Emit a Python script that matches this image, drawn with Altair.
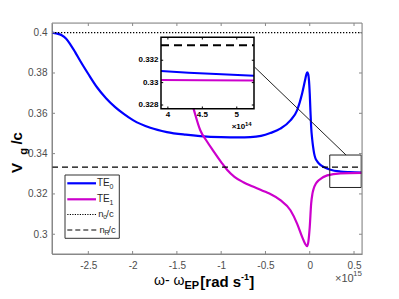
import altair as alt
import pandas as pd

# ---------------- data (x in units of 1e15 rad/s) ----------------
blue_x = [-2.91, -2.86, -2.80, -2.75, -2.707, -2.65, -2.594, -2.50, -2.40, -2.30, -2.20, -2.10,
          -1.991, -1.80, -1.613, -1.40, -1.236, -1.00, -0.80, -0.671, -0.55, -0.445, -0.332,
          -0.218, -0.143, -0.086, -0.055, -0.040, -0.029, -0.018, -0.008, 0.000, 0.008, 0.016,
          0.028, 0.038, 0.050, 0.064, 0.084, 0.120, 0.158, 0.234, 0.347, 0.45, 0.59]
blue_y = [0.4000, 0.3996, 0.3987, 0.3970, 0.3945, 0.3905, 0.3862, 0.3795, 0.3728, 0.3675, 0.3632,
          0.3597, 0.3565, 0.3528, 0.3507, 0.3494, 0.3487, 0.3482, 0.3481, 0.3482, 0.3488, 0.3502,
          0.3524, 0.3565, 0.3615, 0.3698, 0.3760, 0.3790, 0.3803, 0.3795, 0.3760, 0.3698, 0.3610,
          0.3532, 0.3470, 0.3433, 0.3400, 0.3377, 0.3362, 0.3344, 0.3334, 0.3320, 0.3311, 0.3308,
          0.3306]

mag_x = [-1.34, -1.312, -1.236, -1.16, -1.093, -1.00, -0.934, -0.85, -0.75, -0.65, -0.55, -0.482,
         -0.445, -0.332, -0.218, -0.143, -0.086, -0.055, -0.029, -0.015, 0.000, 0.016, 0.030,
         0.045, 0.070, 0.102, 0.197, 0.347, 0.59]
mag_y = [0.3665, 0.3623, 0.3516, 0.3460, 0.3416, 0.3358, 0.3320, 0.3285, 0.3258, 0.3238, 0.3220,
         0.3207, 0.3200, 0.3169, 0.3119, 0.3053, 0.2987, 0.2955, 0.2941, 0.2965, 0.3036, 0.3152,
         0.3200, 0.3227, 0.3252, 0.3268, 0.3292, 0.3302, 0.3304]

x_ticks = [-2.5, -2, -1.5, -1, -0.5, 0, 0.5]
y_ticks = [0.3, 0.32, 0.34, 0.36, 0.38, 0.4]
n_o = 0.4
n_R = 1 / 3

zoom_box_x = [0.226, 0.581]
zoom_box_y = [0.3232, 0.3393]
connector_x = [-0.622, 0.41]
connector_y = [0.3829, 0.3393]

# inset (x in units of 1e14 rad/s)
inset_blue_x = [3.9, 4.3, 4.7, 5.25]
inset_blue_y = [0.33104, 0.33088, 0.33076, 0.33062]
inset_mag_x = [3.9, 4.5, 5.25]
inset_mag_y = [0.33024, 0.33021, 0.33018]
inset_x_ticks = [4, 4.5, 5]
inset_y_ticks = [0.328, 0.33, 0.332]

X_DOM = [-2.91, 0.59]
Y_DOM = [0.2902, 0.4048]
INSET_X_DOM = [3.9, 5.25]
INSET_Y_DOM = [0.32767, 0.33405]

W, H = 310, 231
FONT = "Liberation Sans"
GRAY = "#888888"
LBL = "#4d4d4d"
BLUE = "#0000ff"
MAG = "#cc00cc"

xs = alt.Scale(domain=X_DOM, range=[0, W], nice=False, zero=False)
ys = alt.Scale(domain=Y_DOM, range=[H, 0], nice=False, zero=False)
isx = alt.Scale(domain=INSET_X_DOM, range=[109, 202], nice=False, zero=False)
isy = alt.Scale(domain=INSET_Y_DOM, range=[85.7, 14.3], nice=False, zero=False)

x_axis = alt.Axis(values=x_ticks, labelExpr="'' + datum.value", ticks=False, grid=False,
                  domain=True, domainColor=GRAY, domainWidth=1,
                  labelColor=LBL, labelFont=FONT, labelFontSize=10,
                  labelPadding=6, labelFlush=False, labelOverlap=False, title=None, orient="bottom")
y_axis = alt.Axis(values=y_ticks, labelExpr="'' + datum.value", ticks=False, grid=False,
                  domain=True, domainColor=GRAY, domainWidth=1,
                  labelColor=LBL, labelFont=FONT, labelFontSize=10,
                  labelPadding=5, labelFlush=False, labelOverlap=False, title=None, orient="left")

blue_df = pd.DataFrame({"x": blue_x, "y": blue_y})
mag_df = pd.DataFrame({"x": mag_x, "y": mag_y})

blue = alt.Chart(blue_df).mark_line(color=BLUE, strokeWidth=2.2, interpolate="monotone").encode(
    x=alt.X("x:Q", scale=xs, axis=x_axis), y=alt.Y("y:Q", scale=ys, axis=y_axis))
mag = alt.Chart(mag_df).mark_line(color=MAG, strokeWidth=2.2, interpolate="monotone").encode(
    x=alt.X("x:Q", scale=xs, axis=None), y=alt.Y("y:Q", scale=ys, axis=None))

dotted = alt.Chart(pd.DataFrame({"y": [n_o]})).mark_rule(
    color="black", strokeWidth=1.3, strokeDash=[1.3, 1.7]).encode(
    y=alt.Y("y:Q", scale=ys, axis=None), x=alt.value(0), x2=alt.value(W))
dashed = alt.Chart(pd.DataFrame({"y": [n_R]})).mark_rule(
    color="black", strokeWidth=1.2, strokeDash=[6, 4]).encode(
    y=alt.Y("y:Q", scale=ys, axis=None), x=alt.value(0), x2=alt.value(W))

zbox = alt.Chart(pd.DataFrame({"x": [zoom_box_x[0]], "x2": [zoom_box_x[1]],
                               "y": [zoom_box_y[0]], "y2": [zoom_box_y[1]]})).mark_rect(
    fill="white", fillOpacity=0, stroke="#222222", strokeWidth=1).encode(
    x=alt.X("x:Q", scale=xs, axis=None), x2="x2:Q",
    y=alt.Y("y:Q", scale=ys, axis=None), y2="y2:Q")
conn = alt.Chart(pd.DataFrame({"x": [connector_x[0]], "x2": [connector_x[1]],
                               "y": [connector_y[0]], "y2": [connector_y[1]]})).mark_rule(
    color="#222222", strokeWidth=1).encode(
    x=alt.X("x:Q", scale=xs, axis=None), x2="x2:Q",
    y=alt.Y("y:Q", scale=ys, axis=None), y2="y2:Q")

xt_df = pd.DataFrame({"v": x_ticks})
yt_df = pd.DataFrame({"v": y_ticks})
frame_main = alt.Chart(pd.DataFrame({"a": [0]})).mark_rect(
    fill="white", fillOpacity=0, stroke=GRAY, strokeWidth=1).encode(
    x=alt.value(0), x2=alt.value(W), y=alt.value(0), y2=alt.value(H))
tick_layers = [
    alt.Chart(xt_df).mark_rule(color=GRAY).encode(
        x=alt.X("v:Q", scale=xs, axis=None), y=alt.value(H), y2=alt.value(H - 3)),
    alt.Chart(xt_df).mark_rule(color=GRAY).encode(
        x=alt.X("v:Q", scale=xs, axis=None), y=alt.value(0), y2=alt.value(3)),
    alt.Chart(yt_df).mark_rule(color=GRAY).encode(
        y=alt.Y("v:Q", scale=ys, axis=None), x=alt.value(0), x2=alt.value(3)),
    alt.Chart(yt_df).mark_rule(color=GRAY).encode(
        y=alt.Y("v:Q", scale=ys, axis=None), x=alt.value(W), x2=alt.value(W - 3)),
]


def txt(s, x, y, size, color="#262626", bold=False, italic=False, align="left",
        baseline="alphabetic", angle=0):
    kw = dict(font=FONT, fontSize=size, color=color, align=align, baseline=baseline)
    if bold:
        kw["fontWeight"] = "bold"
    if italic:
        kw["fontStyle"] = "italic"
    if angle:
        kw["angle"] = angle
    return alt.Chart(pd.DataFrame({"t": [s]})).mark_text(**kw).encode(
        text="t:N", x=alt.value(x), y=alt.value(y))


def hseg(x1, x2, y, color, width, dash=None):
    kw = dict(color=color, strokeWidth=width)
    if dash:
        kw["strokeDash"] = dash
    return alt.Chart(pd.DataFrame({"a": [0]})).mark_rule(**kw).encode(
        x=alt.value(x1), x2=alt.value(x2), y=alt.value(y))


# legend
legend = [
    alt.Chart(pd.DataFrame({"a": [0]})).mark_rect(
        fill="white", stroke="#333333", strokeWidth=1).encode(
        x=alt.value(13), x2=alt.value(67.3), y=alt.value(152), y2=alt.value(215.3)),
    hseg(15.3, 44, 160.3, BLUE, 2.2),
    hseg(15.3, 44, 176.3, MAG, 2.2),
    hseg(15.3, 45.3, 191.5, "black", 1.1, [1.2, 1.3]),
    hseg(15.3, 45, 207, "black", 1.1, [5, 3]),
    txt("TE", 45, 160.3, 10, baseline="middle"),
    txt("0", 57.5, 163.5, 7, baseline="middle"),
    txt("TE", 45, 176.3, 10, baseline="middle"),
    txt("1", 57.5, 179.5, 7, baseline="middle"),
    txt("n", 46.3, 191.3, 9.5, baseline="middle"),
    txt("o", 51.2, 194.3, 6.5, baseline="middle"),
    txt("/c", 54.3, 191.3, 9.5, baseline="middle"),
    txt("n", 47.5, 206.8, 9.5, baseline="middle"),
    txt("R", 52.4, 209.8, 6.5, baseline="middle"),
    txt("/c", 56.3, 206.8, 9.5, baseline="middle"),
]

titles = [
    # y title  V_g/c
    txt("V", -35, 145, 15, color="black", bold=True, align="center", baseline="middle", angle=270),
    txt("g", -28.5, 128.5, 11, color="black", bold=True, align="center", baseline="middle", angle=270),
    txt("/c", -35, 115.3, 15, color="black", bold=True, align="center", baseline="middle", angle=270),
    # x title  ω- ω_EP [rad s^-1]
    txt("ω- ω", 102, 261.5, 14, color="black"),
    txt("EP", 132.5, 266, 11, color="black", bold=True),
    txt("[rad s", 148.3, 263.5, 15, color="black", bold=True),
    txt("-1", 189, 257, 9, color="black", bold=True),
    txt("]", 197.3, 263.5, 15, color="black", bold=True),
    # exponent
    txt("×10", 283, 258.7, 11, color=LBL),
    txt("15", 301, 253, 8, color=LBL),
]

# ---------------- inset ----------------
frame_df = pd.DataFrame({"x": [INSET_X_DOM[0]], "x2": [INSET_X_DOM[1]],
                         "y": [INSET_Y_DOM[0]], "y2": [INSET_Y_DOM[1]]})
inset_bg = alt.Chart(frame_df).mark_rect(fill="white").encode(
    x=alt.X("x:Q", scale=isx, axis=None), x2="x2:Q",
    y=alt.Y("y:Q", scale=isy, axis=None), y2="y2:Q")
inset_dash = alt.Chart(pd.DataFrame({"x": [INSET_X_DOM[0]], "x2": [INSET_X_DOM[1]],
                                     "y": [n_R]})).mark_rule(
    color="black", strokeWidth=2, strokeDash=[8, 5]).encode(
    x=alt.X("x:Q", scale=isx, axis=None), x2="x2:Q", y=alt.Y("y:Q", scale=isy, axis=None))
inset_blue = alt.Chart(pd.DataFrame({"x": inset_blue_x, "y": inset_blue_y})).mark_line(
    color=BLUE, strokeWidth=2).encode(
    x=alt.X("x:Q", scale=isx, axis=None), y=alt.Y("y:Q", scale=isy, axis=None))
inset_mag = alt.Chart(pd.DataFrame({"x": inset_mag_x, "y": inset_mag_y})).mark_line(
    color=MAG, strokeWidth=2).encode(
    x=alt.X("x:Q", scale=isx, axis=None), y=alt.Y("y:Q", scale=isy, axis=None))
inset_frame = alt.Chart(frame_df).mark_rect(
    fill="white", fillOpacity=0, stroke="black", strokeWidth=1.5).encode(
    x=alt.X("x:Q", scale=isx, axis=None), x2="x2:Q",
    y=alt.Y("y:Q", scale=isy, axis=None), y2="y2:Q")
ixt = pd.DataFrame({"v": inset_x_ticks, "t": ["4", "4.5", "5"]})
iyt = pd.DataFrame({"v": inset_y_ticks, "t": ["0.328", "0.33", "0.332"]})
inset_xlab = alt.Chart(ixt).mark_text(font=FONT, fontSize=8, fontWeight="bold", color="black",
                                      baseline="top", align="center").encode(
    x=alt.X("v:Q", scale=isx, axis=None), y=alt.value(88.3), text="t:N")
inset_ylab = alt.Chart(iyt).mark_text(font=FONT, fontSize=8, fontWeight="bold", color="black",
                                      baseline="middle", align="right").encode(
    y=alt.Y("v:Q", scale=isy, axis=None), x=alt.value(106.5), text="t:N")
inset_ticks = [
    alt.Chart(ixt).mark_rule(color="black").encode(
        x=alt.X("v:Q", scale=isx, axis=None), y=alt.value(85.7), y2=alt.value(83.5)),
    alt.Chart(ixt).mark_rule(color="black").encode(
        x=alt.X("v:Q", scale=isx, axis=None), y=alt.value(14.3), y2=alt.value(16.5)),
    alt.Chart(iyt).mark_rule(color="black").encode(
        y=alt.Y("v:Q", scale=isy, axis=None), x=alt.value(109), x2=alt.value(111.2)),
    alt.Chart(iyt).mark_rule(color="black").encode(
        y=alt.Y("v:Q", scale=isy, axis=None), x=alt.value(202), x2=alt.value(199.8)),
]
inset_exp = [
    txt("×10", 179.7, 106.3, 8, color="black", bold=True),
    txt("14", 193, 103, 6, color="black", bold=True),
]

layers = [blue, mag, dotted, dashed, zbox, conn, frame_main, *tick_layers, *legend, *titles,
          inset_bg, inset_dash, inset_blue, inset_mag, *inset_ticks, inset_frame,
          inset_xlab, inset_ylab, *inset_exp]

chart = alt.layer(*layers).resolve_scale(x="independent", y="independent").properties(
    width=W, height=H,
    autosize=alt.AutoSizeParams(type="none"),
    padding={"left": 44, "top": 15, "right": 29, "bottom": 37},
).configure_view(stroke=GRAY, strokeWidth=1).configure(font=FONT)

chart.save("out.html", embed_options={"renderer": "svg", "actions": False})
